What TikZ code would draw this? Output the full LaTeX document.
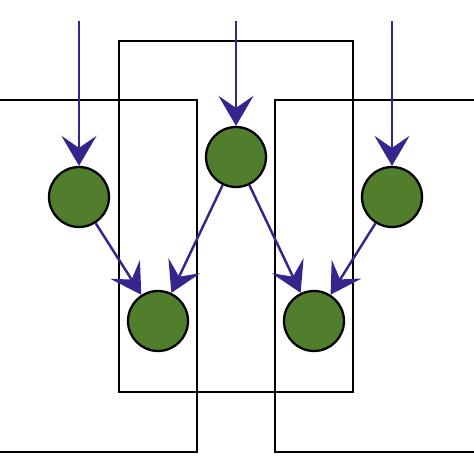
\documentclass[tikz,border=0pt]{standalone}
\usepackage{xcolor}
\definecolor{nodegreen}{RGB}{80,126,44}
\definecolor{arrowblue}{RGB}{52,38,140}
\usetikzlibrary{arrows.meta}

\begin{document}
\begin{tikzpicture}[x=0.02cm, y=-0.02cm,
  cell/.style={circle, draw=black, line width=1.3pt, fill=nodegreen,
               minimum size=1.2cm, inner sep=0pt},
  frame/.style={draw=black, line width=1.2pt},
  arr/.style={-{Stealth[length=0.6cm, width=0.7cm, inset=0.24cm]},
              draw=arrowblue, fill=arrowblue, line width=1.4pt}
]
\useasboundingbox (0,0) rectangle (474,474);
\clip (0,0) rectangle (474,474);

% Frames
\draw[frame] (-10,100) rectangle (197,452);
\draw[frame] (119,41) rectangle (353,392);
\draw[frame] (484,100) -- (275,100) -- (275,452) -- (484,452);

% Cells
\node[cell] (left)   at (79,197)  {};
\node[cell] (middle) at (236,157) {};
\node[cell] (right)  at (392,197) {};
\node[cell] (lowl)   at (158,321) {};
\node[cell] (lowr)   at (314,321) {};

% Inputs
\coordinate (inl) at (79,21);
\coordinate (inm) at (236,21);
\coordinate (inr) at (392,21);

% Arrows
\draw[arr] (inl) -- (left);
\draw[arr] (inm) -- (middle);
\draw[arr] (inr) -- (right);
\draw[arr] (left)   -- (lowl);
\draw[arr] (middle) -- (lowl);
\draw[arr] (middle) -- (lowr);
\draw[arr] (right)  -- (lowr);
\end{tikzpicture}
\end{document}
